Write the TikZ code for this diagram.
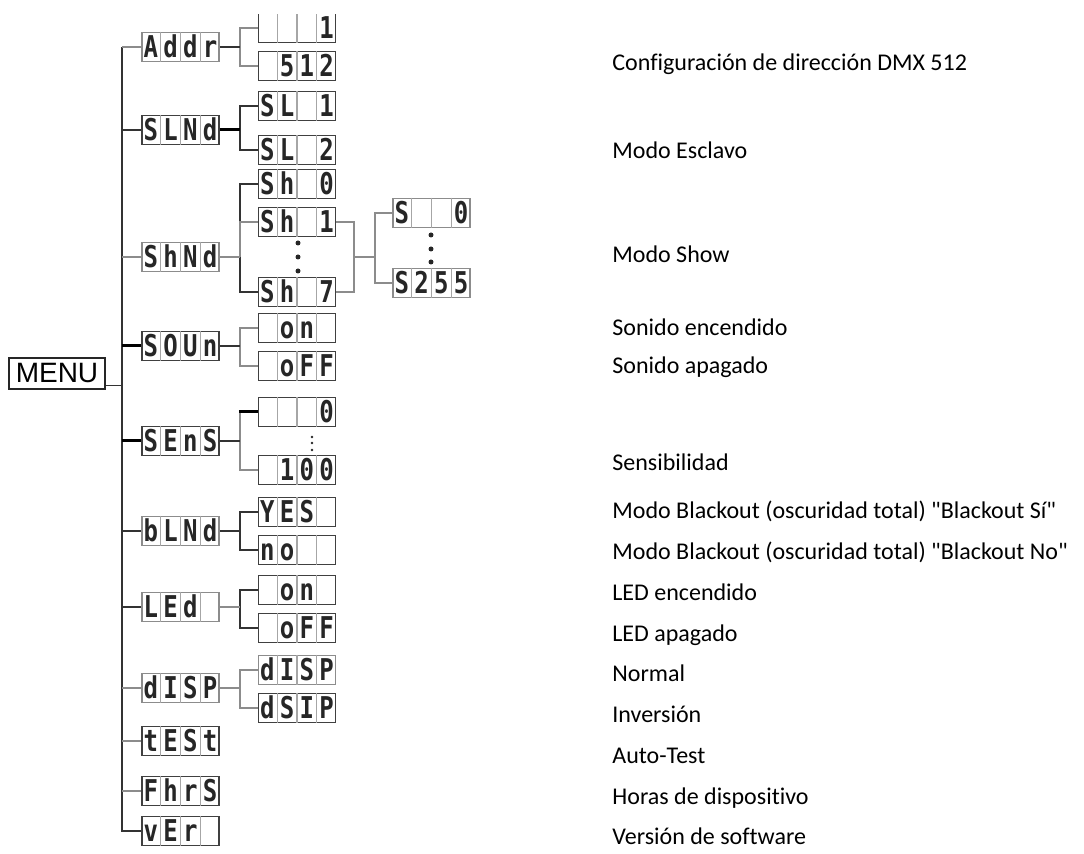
\documentclass[tikz,border=0pt]{standalone}
\usepackage{fontspec}
\setmainfont[Ligatures=NoCommon]{Carlito}
\newfontfamily\lcdfont[FakeStretch=0.8]{DejaVu Sans Mono}
\newfontfamily\menufont{Liberation Sans}
\usetikzlibrary{calc}

\tikzset{
  lcdbox/.style={draw=black!75, line width=0.9pt, minimum width=38.5pt, minimum height=14.5pt, inner sep=0pt},
  lcdgrid/.style={draw=black!35, line width=0.6pt},
  lcdchar/.style={font=\lcdfont\bfseries\fontsize{15}{15}\selectfont, text=black!85, inner sep=0pt, anchor=base, yshift=-5.5pt},
  menubox/.style={draw=black!85, line width=0.9pt, minimum width=48pt, minimum height=15.5pt, inner sep=0pt, font=\menufont\fontsize{14}{14}\selectfont},
  wire/.style={draw=black!80, line width=0.8pt},
  wiregray/.style={draw=black!45, line width=0.9pt},
  wirebold/.style={draw=black, line width=1.5pt},
  desc/.style={font=\fontsize{12}{15}\selectfont, anchor=base west, inner sep=0pt},
  dot/.style={circle, fill=black!85, inner sep=0pt, minimum size=2.5pt},
  smalldot/.style={circle, fill=black!85, inner sep=0pt, minimum size=1.4pt},
}

% one display: [style] name, position, four cells
\newcommand{\lcd}[7][]{%
  \node[lcdbox,#1] (#2) at (#3) {};
  \draw[lcdgrid] ($(#2.north west)!0.25!(#2.north east)$) -- ($(#2.south west)!0.25!(#2.south east)$);
  \draw[lcdgrid] ($(#2.north west)!0.5!(#2.north east)$) -- ($(#2.south west)!0.5!(#2.south east)$);
  \draw[lcdgrid] ($(#2.north west)!0.75!(#2.north east)$) -- ($(#2.south west)!0.75!(#2.south east)$);
  \node[lcdchar] (#2-1) at ($(#2.west)!0.125!(#2.east)$) {#4};
  \node[lcdchar] (#2-2) at ($(#2.west)!0.375!(#2.east)$) {#5};
  \node[lcdchar] (#2-3) at ($(#2.west)!0.625!(#2.east)$) {#6};
  \node[lcdchar] (#2-4) at ($(#2.west)!0.875!(#2.east)$) {#7};
}

\begin{document}
\begin{tikzpicture}[x=0.5pt, y=-0.5pt]

  \useasboundingbox (0,0) rectangle (1084,854);
  \clip (0,15) rectangle (1084,854);

  % Menu
  \node[menubox] (MENU) at (57,373.5) {MENU};

  % --- first level ---
  \lcd[draw=black!45]{Addr}{180.5,47}{A}{d}{d}{r}
  \lcd{SLNd}{180.5,130}{S}{L}{N}{d}
  \lcd[draw=black!45]{ShNd}{180.5,257}{S}{h}{N}{d}
  \lcd{SOUn}{180.5,346}{S}{O}{U}{n}
  \lcd{SEnS}{180.5,441}{S}{E}{n}{S}
  \lcd[draw=black!45]{bLNd}{180.5,531}{b}{L}{N}{d}
  \lcd[draw=black!45]{LEd}{180.5,607}{L}{E}{d}{}
  \lcd[draw=black!45]{dISP}{180.5,688}{d}{I}{S}{P}
  \lcd{tESt}{180.5,741}{t}{E}{S}{t}
  \lcd{FhrS}{180.5,791}{F}{h}{r}{S}
  \lcd{vEr}{180.5,831}{v}{E}{r}{}

  % --- second level ---
  \lcd{adr1}{297,28}{}{}{}{1}
  \lcd{adr2}{297,66}{}{5}{1}{2}
  \lcd{sl1}{297,106}{S}{L}{}{1}
  \lcd{sl2}{297,150}{S}{L}{}{2}
  \lcd{sh0}{297,184}{S}{h}{}{0}
  \lcd{sh1}{297,222}{S}{h}{}{1}
  \lcd{sh7}{297,292}{S}{h}{}{7}
  \lcd{son1}{297,328}{}{o}{n}{}
  \lcd{son2}{297,366}{}{o}{F}{F}
  \lcd{sen1}{297,412}{}{}{}{0}
  \lcd{sen2}{297,470}{}{1}{0}{0}
  \lcd{blk1}{297,512}{Y}{E}{S}{}
  \lcd{blk2}{297,550}{n}{o}{}{}
  \lcd{led1}{297,590}{}{o}{n}{}
  \lcd{led2}{297,628}{}{o}{F}{F}
  \lcd[draw=black!45]{dsp1}{297,670}{d}{I}{S}{P}
  \lcd{dsp2}{297,708}{d}{S}{I}{P}

  % --- third level ---
  \lcd[draw=black!45]{spd0}{431.5,213}{S}{}{}{0}
  \lcd[draw=black!45]{spd9}{431.5,283}{S}{2}{5}{5}

  % dots
  \foreach \y [count=\i] in {243,257,271}
    \node[dot] (shdot\i) at (298,\y) {};
  \foreach \y [count=\i] in {235,249,262}
    \node[dot] (spdot\i) at (431,\y) {};
  \foreach \y [count=\i] in {437,443,450}
    \node[smalldot] (sedot\i) at (312,\y) {};

  % --- connectors ---
  \coordinate (trunk) at (122,0);
  \coordinate (fork) at (240,0);
  \coordinate (jA) at (354,0);
  \coordinate (jB) at (375,0);

  \draw[wire] (trunk |- Addr.west) -- (trunk |- vEr.west) -- (vEr.west);
  \draw[wire] ([yshift=-6pt]MENU.east) -- ([yshift=-6pt]MENU.east -| trunk);
  \foreach \n in {Addr,ShNd,dISP,tESt,FhrS}
    \draw[wiregray] (trunk |- \n.west) -- (\n.west);
  \foreach \n in {SLNd,bLNd,LEd}
    \draw[wire] (trunk |- \n.west) -- (\n.west);
  \foreach \n in {SOUn,SEnS}
    \draw[wirebold] (trunk |- \n.west) -- (\n.west);

  \foreach \p/\c/\s in {Addr/adr1/wiregray, Addr/adr2/wiregray,
      SLNd/sl1/wire, SLNd/sl2/wire,
      ShNd/sh0/wire, ShNd/sh1/wiregray, ShNd/sh7/wire,
      SOUn/son1/wiregray, SOUn/son2/wiregray,
      SEnS/sen2/wiregray, bLNd/blk1/wire, bLNd/blk2/wire,
      LEd/led1/wire, LEd/led2/wire, dISP/dsp1/wiregray, dISP/dsp2/wiregray}
    \draw[\s] (fork |- \p.east) |- (\c.west);
  \draw[wiregray] (fork |- SEnS.east) |- (sen1.west);
  \draw[wirebold] ([xshift=-0.6pt]fork |- sen1.west) -- (sen1.west);
  \draw[wire] (Addr.east) -- (fork |- Addr.east);
  \draw[wirebold] (SLNd.east) -- (fork |- SLNd.east);
  \draw[wiregray] (ShNd.east) -- (fork |- ShNd.east);
  \draw[wire] (SOUn.east) -- (fork |- SOUn.east);
  \draw[wire] (SEnS.east) -- (fork |- SEnS.east);
  \draw[wire] (bLNd.east) -- (fork |- bLNd.east);
  \draw[wiregray] (LEd.east) -- (fork |- LEd.east);
  \draw[wiregray] (dISP.east) -- (fork |- dISP.east);

  \draw[wiregray] (sh1.east) -| (jA |- sh7.east) -- (sh7.east);
  \draw[wiregray] (jA |- ShNd.east) -- (jB |- ShNd.east);
  \draw[wiregray] (spd0.west) -| (jB |- spd9.west) -- (spd9.west);

  % --- descriptions ---
  \node[desc] (t1) at (612,71) {Configuración de dirección DMX 512};
  \node[desc] (t2) at (612,159) {Modo Esclavo};
  \node[desc] (t3) at (612,263) {Modo Show};
  \node[desc] (t4) at (612,336) {Sonido encendido};
  \node[desc] (t5) at (612,374) {Sonido apagado};
  \node[desc] (t6) at (612,471) {Sensibilidad};
  \node[desc] (t7) at (612,519) {Modo Blackout (oscuridad total) \textquotedbl Blackout Sí\textquotedbl};
  \node[desc] (t8) at (612,559.75) {Modo Blackout (oscuridad total) \textquotedbl Blackout No\textquotedbl};
  \node[desc] (t9) at (612,600.5) {LED encendido};
  \node[desc] (t10) at (612,641.25) {LED apagado};
  \node[desc] (t11) at (612,682) {Normal};
  \node[desc] (t12) at (612,722.75) {Inversión};
  \node[desc] (t13) at (612,763.5) {Auto-Test};
  \node[desc] (t14) at (612,804.25) {Horas de dispositivo};
  \node[desc] (t15) at (612,845) {Versión de software};

\end{tikzpicture}
\end{document}
